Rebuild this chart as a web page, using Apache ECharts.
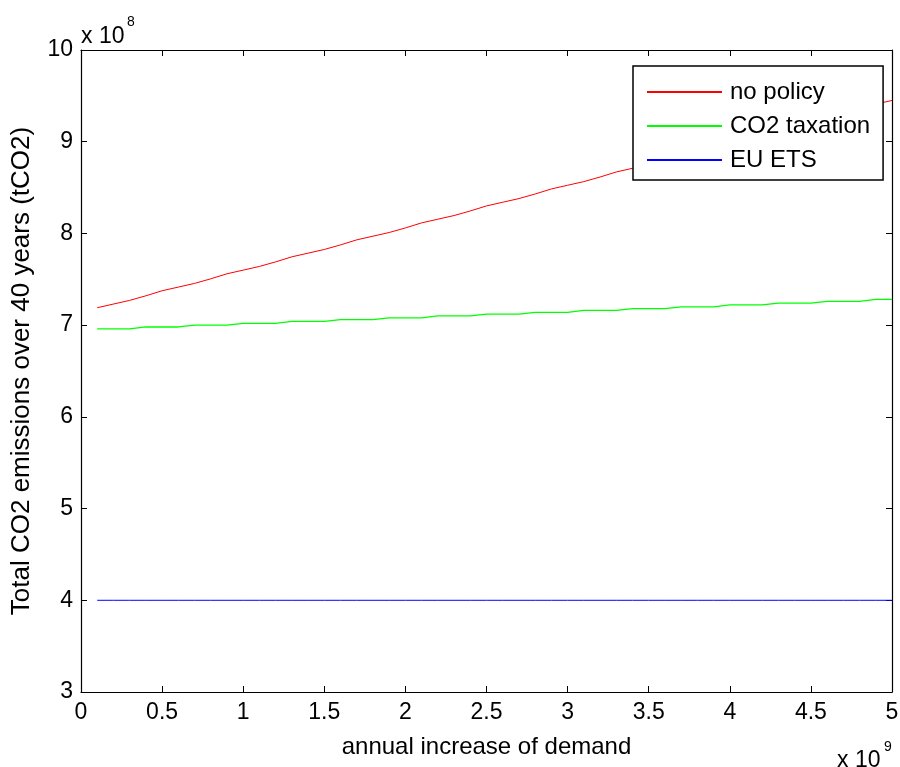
<!DOCTYPE html>
<html>
<head>
<meta charset="utf-8">
<script src="https://cdn.jsdelivr.net/npm/echarts@6/dist/echarts.min.js"></script>
<style>
  html, body { margin: 0; padding: 0; background: #fff; }
  #chart { width: 900px; height: 767px; }
</style>
</head>
<body>
<div id="chart"></div>
<script>
  // annual increase of demand (x 10^9)
  const demand = [0.1, 0.2, 0.3, 0.4, 0.5, 0.6, 0.7, 0.8, 0.9, 1.0,
    1.1, 1.2, 1.3, 1.4, 1.5, 1.6, 1.7, 1.8, 1.9, 2.0,
    2.1, 2.2, 2.3, 2.4, 2.5, 2.6, 2.7, 2.8, 2.9, 3.0,
    3.1, 3.2, 3.3, 3.4, 3.5, 3.6, 3.7, 3.8, 3.9, 4.0,
    4.1, 4.2, 4.3, 4.4, 4.5, 4.6, 4.7, 4.8, 4.9, 5.0]

  // total CO2 emissions (x 10^8 tCO2)
  const noPolicy = [7.19, 7.23, 7.27, 7.32, 7.375, 7.415, 7.455, 7.505, 7.56, 7.60,
    7.64, 7.69, 7.745, 7.785, 7.825, 7.875, 7.93, 7.97, 8.01, 8.06,
    8.115, 8.155, 8.195, 8.245, 8.30, 8.34, 8.38, 8.43, 8.485, 8.525,
    8.565, 8.615, 8.67, 8.71, 8.75, 8.80, 8.855, 8.895, 8.935, 8.985,
    9.04, 9.08, 9.12, 9.17, 9.225, 9.265, 9.305, 9.355, 9.41, 9.45]

  const co2Tax = [6.96, 6.96, 6.96, 6.98, 6.98, 6.98, 7.00, 7.00, 7.00, 7.02,
    7.02, 7.02, 7.04, 7.04, 7.04, 7.06, 7.06, 7.06, 7.08, 7.08,
    7.08, 7.10, 7.10, 7.10, 7.12, 7.12, 7.12, 7.14, 7.14, 7.14,
    7.16, 7.16, 7.16, 7.18, 7.18, 7.18, 7.20, 7.20, 7.20, 7.22,
    7.22, 7.22, 7.24, 7.24, 7.24, 7.26, 7.26, 7.26, 7.28, 7.28]

  const euEts = [4.0, 4.0, 4.0, 4.0, 4.0, 4.0, 4.0, 4.0, 4.0, 4.0,
    4.0, 4.0, 4.0, 4.0, 4.0, 4.0, 4.0, 4.0, 4.0, 4.0,
    4.0, 4.0, 4.0, 4.0, 4.0, 4.0, 4.0, 4.0, 4.0, 4.0,
    4.0, 4.0, 4.0, 4.0, 4.0, 4.0, 4.0, 4.0, 4.0, 4.0,
    4.0, 4.0, 4.0, 4.0, 4.0, 4.0, 4.0, 4.0, 4.0, 4.0]

  const seriesNames = ['no policy', 'CO2 taxation', 'EU ETS']
  const seriesColors = ['#ff0000', '#00ff00', '#0000ff']

  const font = 'Liberation Sans, Arial, sans-serif'
  const chart = echarts.init(document.getElementById('chart'), null, { renderer: 'canvas' })

  const pairs = arr => arr.map((v, i) => [demand[i], v])

  const axisCommon = {
    axisLine: { show: true, onZero: false, lineStyle: { color: '#000', width: 1.2 } },
    axisTick: { show: true, inside: true, length: 6, lineStyle: { color: '#000' } },
    splitLine: { show: false }
  }

  const option = {
    animation: false,
    backgroundColor: '#fff',
    grid: { left: 81, right: 8, top: 50, bottom: 75, containLabel: false, outerBoundsMode: 'none' },
    legend: {
      orient: 'vertical',
      left: 633,
      top: 66,
      padding: [14, 13, 8, 14],
      itemGap: 10,
      itemWidth: 75,
      itemHeight: 2,
      icon: 'rect',
      backgroundColor: '#fff',
      borderColor: '#000',
      borderWidth: 1.5,
      borderRadius: 0,
      textStyle: { fontFamily: font, fontSize: 24, color: '#000', padding: [0, 0, 0, 3] },
      data: seriesNames
    },
    xAxis: [
      Object.assign({
        type: 'value', min: 0, max: 5, interval: 0.5, position: 'bottom',
        name: 'annual increase of demand', nameLocation: 'middle', nameGap: 43,
        nameTextStyle: { fontFamily: font, fontSize: 24, color: '#000' },
        axisLabel: { fontFamily: font, fontSize: 23, color: '#000', margin: 9 }
      }, axisCommon),
      Object.assign({
        type: 'value', min: 0, max: 5, interval: 0.5, position: 'top',
        axisLabel: { show: false }
      }, axisCommon)
    ],
    yAxis: [
      Object.assign({
        type: 'value', min: 3, max: 10, interval: 1, position: 'left',
        name: 'Total CO2 emissions over 40 years (tCO2)', nameLocation: 'middle', nameGap: 46,
        nameTextStyle: { fontFamily: font, fontSize: 26, color: '#000' },
        axisLabel: { fontFamily: font, fontSize: 23, color: '#000', margin: 8 }
      }, axisCommon),
      Object.assign({
        type: 'value', min: 3, max: 10, interval: 1, position: 'right',
        axisLabel: { show: false }
      }, axisCommon)
    ],
    graphic: [
      { type: 'text', left: 81, top: 25, style: { text: 'x 10', fontFamily: font, fontSize: 23, fill: '#000' } },
      { type: 'text', left: 127, top: 15, style: { text: '8', fontFamily: font, fontSize: 14, fill: '#000' } },
      { type: 'text', left: 837, top: 749, style: { text: 'x 10', fontFamily: font, fontSize: 23, fill: '#000' } },
      { type: 'text', left: 884, top: 740, style: { text: '9', fontFamily: font, fontSize: 14, fill: '#000' } }
    ],
    series: [
      { name: seriesNames[0], type: 'line', data: pairs(noPolicy), showSymbol: false,
        lineStyle: { color: seriesColors[0], width: 1 }, itemStyle: { color: seriesColors[0] } },
      { name: seriesNames[1], type: 'line', data: pairs(co2Tax), showSymbol: false,
        lineStyle: { color: seriesColors[1], width: 1.3 }, itemStyle: { color: seriesColors[1] } },
      { name: seriesNames[2], type: 'line', data: pairs(euEts), showSymbol: false,
        lineStyle: { color: seriesColors[2], width: 1 }, itemStyle: { color: seriesColors[2] } }
    ]
  }
  chart.setOption(option)
</script>
</body>
</html>
